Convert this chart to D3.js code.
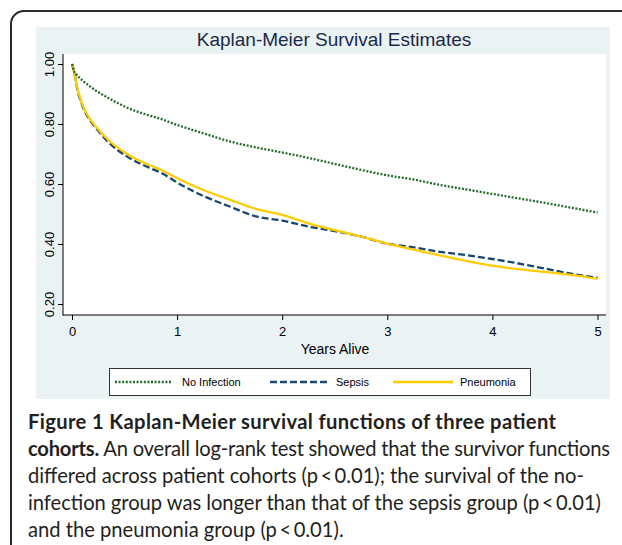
<!DOCTYPE html>
<html>
<head>
<meta charset="utf-8">
<script src="https://cdn.jsdelivr.net/npm/d3@7"></script>
<style>
  html, body { margin: 0; padding: 0; background: #ffffff; }
  svg { display: block; }
</style>
</head>
<body>
<script>
// ---------- data ----------
const times = [0, 0.02, 0.05, 0.1, 0.16, 0.22, 0.35, 0.54, 0.73, 0.86, 1.0, 1.25, 1.5, 1.75, 2.0, 2.25, 2.5, 2.75, 3.0, 3.25, 3.5, 3.75, 4.0, 4.25, 4.5, 4.75, 5.0];
const noInfection = [1.0, 0.975, 0.962, 0.945, 0.928, 0.913, 0.886, 0.852, 0.829, 0.815, 0.797, 0.769, 0.742, 0.722, 0.705, 0.687, 0.667, 0.647, 0.629, 0.615, 0.597, 0.582, 0.567, 0.552, 0.537, 0.521, 0.505];
const sepsis = [1.0, 0.975, 0.918, 0.86, 0.818, 0.79, 0.738, 0.688, 0.655, 0.635, 0.605, 0.56, 0.525, 0.492, 0.478, 0.458, 0.443, 0.425, 0.401, 0.389, 0.374, 0.363, 0.35, 0.335, 0.318, 0.301, 0.287];
const pneumonia = [1.0, 0.972, 0.922, 0.864, 0.822, 0.794, 0.745, 0.697, 0.664, 0.645, 0.619, 0.58, 0.548, 0.517, 0.497, 0.469, 0.446, 0.425, 0.401, 0.381, 0.362, 0.344, 0.328, 0.316, 0.307, 0.297, 0.284];
const seriesNames = ["No Infection", "Sepsis", "Pneumonia"];
const xTicks = [0, 1, 2, 3, 4, 5];
const yTicks = [0.2, 0.4, 0.6, 0.8, 1.0];
const titleText = "Kaplan-Meier Survival Estimates";
const xTitle = "Years Alive";
const captionLines = [
  [{t: "Figure 1 Kaplan-Meier survival functions of three patient", b: true}],
  [{t: "cohorts.", b: true}, {t: " An overall log-rank test showed that the survivor functions", b: false}],
  [{t: "differed across patient cohorts (p\u2009<\u20090.01); the survival of the no-", b: false}],
  [{t: "infection group was longer than that of the sepsis group (p\u2009<\u20090.01)", b: false}],
  [{t: "and the pneumonia group (p\u2009<\u20090.01).", b: false}]
];

// ---------- layout ----------
const W = 622, H = 545;
const svg = d3.select("body").append("svg").attr("width", W).attr("height", H);

// outer rounded frame (clipped by the page edges)
svg.append("rect")
  .attr("x", 11).attr("y", 11).attr("width", 660).attr("height", 600)
  .attr("rx", 13).attr("ry", 13)
  .attr("fill", "none").attr("stroke", "#2b2b2b").attr("stroke-width", 2);

// graph region
svg.append("rect").attr("x", 36).attr("y", 27).attr("width", 574).attr("height", 372)
  .attr("fill", "#eaf2f3");

const plot = {left: 63, right: 606, top: 54, bottom: 315};
svg.append("rect").attr("x", plot.left).attr("y", plot.top)
  .attr("width", plot.right - plot.left).attr("height", plot.bottom - plot.top)
  .attr("fill", "#ffffff");

const x = d3.scaleLinear().domain([0, 5]).range([72, 597.5]);
const y = d3.scaleLinear().domain([0.2, 1.0]).range([304, 64]);

const font = "'Liberation Sans', Arial, Helvetica, sans-serif";

// title
svg.append("text").attr("x", 334).attr("y", 46).attr("text-anchor", "middle")
  .style("font-family", font).style("font-size", "19px").attr("fill", "#1b2a4a")
  .text(titleText);

// y axis
const gy = svg.append("g").attr("transform", `translate(${plot.left},0)`)
  .call(d3.axisLeft(y).tickValues(yTicks).tickFormat(d3.format(".2f")).tickSize(5));
gy.attr("font-family", null).attr("font-size", null);
gy.select(".domain").remove();
gy.selectAll(".tick line").attr("stroke", "#000").attr("stroke-width", 1);
gy.selectAll(".tick text")
  .attr("x", null).attr("dy", null)
  .attr("transform", "translate(-9,0) rotate(-90)")
  .attr("text-anchor", "middle")
  .style("font-family", font).style("font-size", "13px").attr("fill", "#000");
svg.append("line").attr("x1", plot.left).attr("x2", plot.left)
  .attr("y1", plot.top).attr("y2", plot.bottom + 0.5)
  .attr("stroke", "#000").attr("stroke-width", 1);

// x axis
const gx = svg.append("g").attr("transform", `translate(0,${plot.bottom})`)
  .call(d3.axisBottom(x).tickValues(xTicks).tickFormat(d3.format("d")).tickSize(5));
gx.attr("font-family", null).attr("font-size", null);
gx.select(".domain").remove();
gx.selectAll(".tick line").attr("stroke", "#000").attr("stroke-width", 1);
gx.selectAll(".tick text").attr("y", 21).attr("dy", null)
  .style("font-family", font).style("font-size", "13px").attr("fill", "#000");
svg.append("line").attr("x1", plot.left).attr("x2", plot.right)
  .attr("y1", plot.bottom).attr("y2", plot.bottom)
  .attr("stroke", "#000").attr("stroke-width", 1);

svg.append("text").attr("x", 335).attr("y", 354).attr("text-anchor", "middle")
  .style("font-family", font).style("font-size", "14px").attr("fill", "#000")
  .text(xTitle);

// ---------- curves ----------
const styles = [
  {color: "#236b2b", dash: "2,1.6", width: 2.3},
  {color: "#1a476f", dash: "7,3", width: 2.3},
  {color: "#ffcc00", dash: null, width: 2.3}
];
const allSeries = [noInfection, sepsis, pneumonia];
const line = d3.line().x(d => x(d[0])).y(d => y(d[1])).curve(d3.curveMonotoneX);
[1, 2, 0].forEach(i => {
  const pts = times.map((t, k) => [t, allSeries[i][k]]);
  svg.append("path").datum(pts).attr("d", line)
    .attr("fill", "none").attr("stroke", styles[i].color)
    .attr("stroke-width", styles[i].width)
    .attr("stroke-dasharray", styles[i].dash);
});

// ---------- legend ----------
svg.append("rect").attr("x", 109.5).attr("y", 368.5).attr("width", 421).attr("height", 27)
  .attr("fill", "#ffffff").attr("stroke", "#333").attr("stroke-width", 1);
const legX = [{l1: 115, l2: 172, tx: 182}, {l1: 270, l2: 328, tx: 336}, {l1: 393, l2: 453, tx: 460}];
const legY = 382;
seriesNames.forEach((name, i) => {
  svg.append("line").attr("x1", legX[i].l1).attr("x2", legX[i].l2)
    .attr("y1", legY).attr("y2", legY)
    .attr("stroke", styles[i].color).attr("stroke-width", styles[i].width)
    .attr("stroke-dasharray", styles[i].dash);
  svg.append("text").attr("x", legX[i].tx).attr("y", legY + 4)
    .style("font-family", font).style("font-size", "11px").attr("fill", "#000")
    .text(name);
});

// ---------- caption ----------
const capFont = "Lato, 'Open Sans', 'Noto Sans', sans-serif";
const capRight = [556, 610, 584, 601, 343];
const capLeft = 28;
const texts = captionLines.map((parts, i) => {
  const t = svg.append("text").attr("x", capLeft).attr("y", 429 + i * 27)
    .style("font-family", capFont).style("font-size", "19px").attr("fill", "#231f20");
  parts.forEach(p => {
    t.append("tspan").attr("font-weight", p.b ? 700 : 400).text(p.t);
  });
  return t;
});
// fit a common font size, then fine-tune each line's length
let ratios = texts.map((t, i) => (capRight[i] - capLeft) / t.node().getComputedTextLength());
let avg = d3.mean(ratios);
const fs = 19 * avg;
texts.forEach((t, i) => {
  t.style("font-size", fs + "px");
  const w = t.node().getComputedTextLength();
  const target = capRight[i] - capLeft;
  if (Math.abs(w - target) > 1) t.attr("textLength", target).attr("lengthAdjust", "spacing");
});
</script>
</body>
</html>
